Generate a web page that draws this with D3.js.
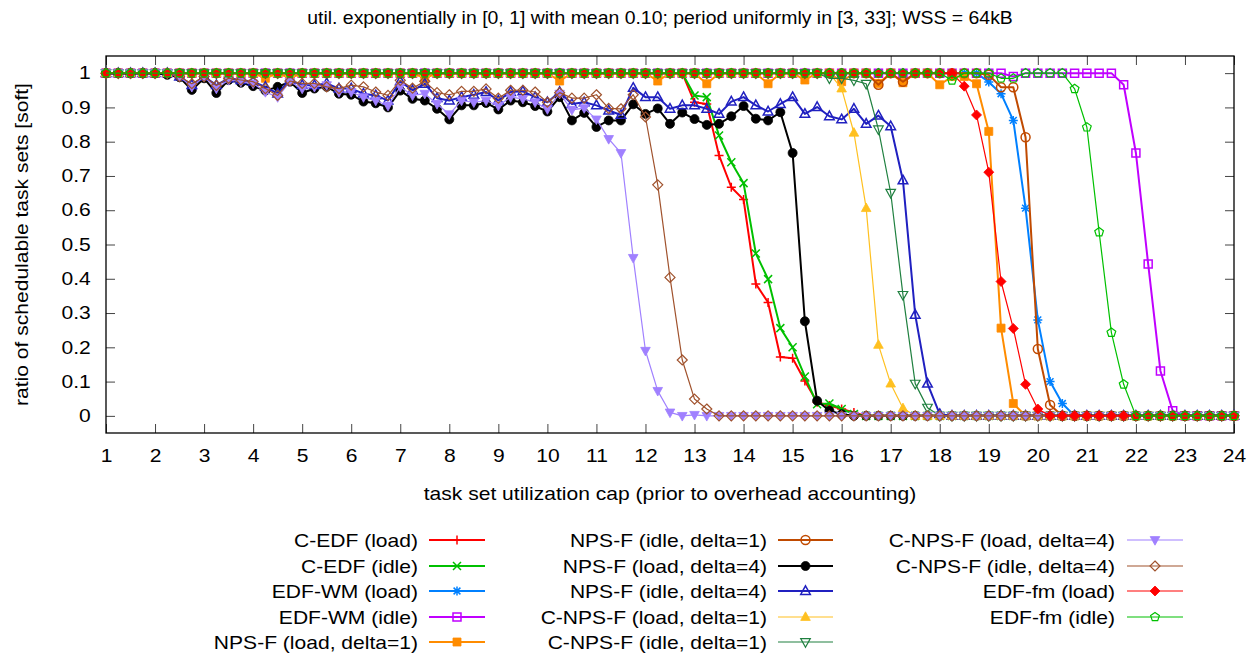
<!DOCTYPE html>
<html><head><meta charset="utf-8">
<script src="https://cdn.jsdelivr.net/npm/d3@7"></script>
<style>
body{margin:0;background:#fff}
svg{display:block}
text{font-family:"Liberation Sans",Arial,sans-serif;fill:#000}
</style>
</head><body>
<svg id="c" width="1258" height="653"></svg>
<script>
// ---------------- data ----------------
const titleText = "util. exponentially in [0, 1] with mean 0.10; period uniformly in [3, 33]; WSS = 64kB";
const xLabel = "task set utilization cap (prior to overhead accounting)";
const yLabel = "ratio of schedulable task sets [soft]";
const xTicks = [1,2,3,4,5,6,7,8,9,10,11,12,13,14,15,16,17,18,19,20,21,22,23,24];
const yTicks = [0,0.1,0.2,0.3,0.4,0.5,0.6,0.7,0.8,0.9,1];
const yTickLabels = ["0","0.1","0.2","0.3","0.4","0.5","0.6","0.7","0.8","0.9","1"];

const xValues = [1,1.25,1.5,1.75,2,2.25,2.5,2.75,3,3.25,3.5,3.75,4,4.25,4.5,4.75,5,5.25,5.5,5.75,6,6.25,6.5,6.75,7,7.25,7.5,7.75,8,8.25,8.5,8.75,9,9.25,9.5,9.75,10,10.25,10.5,10.75,11,11.25,11.5,11.75,12,12.25,12.5,12.75,13,13.25,13.5,13.75,14,14.25,14.5,14.75,15,15.25,15.5,15.75,16,16.25,16.5,16.75,17,17.25,17.5,17.75,18,18.25,18.5,18.75,19,19.25,19.5,19.75,20,20.25,20.5,20.75,21,21.25,21.5,21.75,22,22.25,22.5,22.75,23,23.25,23.5,23.75,24];

const cedfLoad = [
1,1,1,1,1,1,1,1, 1,1,1,1,1,1,1,1, 1,1,1,1,1,1,1,1, 1,1,1,1,1,1,1,1,
1,1,1,1,1,1,1,1, 1,1,1,1,1,1,1,1,
.915,.91,.76,.667,.631,.385,.331,.172,
.168,.102,.04,.03,.02,.01,0,0,
0,0,0,0,0,0,0,0, 0,0,0,0,0,0,0,0, 0,0,0,0,0,0,0,0, 0,0,0,0,0];
const cedfIdle = [
1,1,1,1,1,1,1,1, 1,1,1,1,1,1,1,1, 1,1,1,1,1,1,1,1, 1,1,1,1,1,1,1,1,
1,1,1,1,1,1,1,1, 1,1,1,1,1,1,1,1,
.935,.93,.818,.74,.679,.474,.399,.256,
.2,.115,.034,.036,.02,.005,0,0,
0,0,0,0,0,0,0,0, 0,0,0,0,0,0,0,0, 0,0,0,0,0,0,0,0, 0,0,0,0,0];
const edfwmLoad = [
1,1,1,1,1,1,1,1, 1,1,1,1,1,1,1,1, 1,1,1,1,1,1,1,1, 1,1,1,1,1,1,1,1,
1,1,1,1,1,1,1,1, 1,1,1,1,1,1,1,1, 1,1,1,1,1,1,1,1, 1,1,1,1,1,1,1,1,
1,1,1,1,1,1,1,1,
.974,.94,.862,.606,.28,.1,.036,0,
0,0,0,0,0,0,0,0, 0,0,0,0,0];
const edfwmIdle = [
1,1,1,1,1,1,1,1, 1,1,1,1,1,1,1,1, 1,1,1,1,1,1,1,1, 1,1,1,1,1,1,1,1,
1,1,1,1,1,1,1,1, 1,1,1,1,1,1,1,1, 1,1,1,1,1,1,1,1, 1,1,1,1,1,1,1,1,
1,1,1,1,1,1,1,1, 1,1,.99,1,1,1,1,1,
1,1,1,.966,.767,.443,.131,.015,
0,0,0,0,0];
const npsfLoad1 = [
1,1,1,1,1,1,1,1, 1,1,1,1,1,.985,1,.985, 1,1,1,1,1,1,1,1, 1,1,.985,1,1,1,1,1,
1,1,1,1,1,.977,1,1, 1,1,1,1,1,.977,1,1, 1,.969,1,1,1,1,.969,1,
1,.98,1,1,.975,1,1,.97, 1,.972,1,1,.966,.99,.99,.969,
.83,.256,.036,0,0,0,0,0,
0,0,0,0,0,0,0,0, 0,0,0,0,0];
const npsfIdle1 = [
1,1,1,1,1,1,1,1, 1,1,1,1,1,1,1,1, 1,1,1,1,1,1,1,1, 1,1,1,1,1,1,1,1,
1,1,1,1,1,1,1,1, 1,1,1,1,1,1,1,1, 1,1,1,1,1,1,1,1,
1,1,1,1,1,1,1,.966, 1,.975,1,1,1,1,1,1,
.995,.959,.959,.813,.195,.032,0,0,
0,0,0,0,0,0,0,0, 0,0,0,0,0];
const npsfLoad4 = [
1,1,1,1,1,.995,.988,.951,
.985,.942,.98,.972,.962,.949,.96,.975,
.942,.955,.96,.94,.937,.917,.912,.9,
.949,.925,.92,.896,.865,.906,.906,.913,
.894,.92,.915,.904,.888,.93,.862,.884,
.843,.862,.862,.909,.881,.897,.852,.885,
.866,.849,.852,.874,.904,.867,.862,.886,
.767,.276,.044,.015,.005,0,0,0,
0,0,0,0,0,0,0,0, 0,0,0,0,0,0,0,0, 0,0,0,0,0,0,0,0, 0,0,0,0,0];
const npsfIdle4 = [
1,1,1,1,1,1,.99,.965,
.99,.965,.985,.98,.975,.96,.94,.98,
.965,.965,.97,.955,.955,.94,.935,.92,
.976,.95,.969,.927,.92,.93,.937,.945,
.92,.945,.947,.93,.915,.945,.91,.915,
.906,.891,.878,.957,.93,.93,.896,.906,
.906,.896,.881,.917,.93,.906,.888,.91,
.93,.881,.901,.874,.865,.896,.852,.876,
.845,.687,.295,.094,.005,0,0,0,
0,0,0,0,0,0,0,0, 0,0,0,0,0,0,0,0, 0,0,0,0,0];
const cnpsfLoad1 = [
1,1,1,1,1,1,1,1, 1,1,1,1,1,1,1,1, 1,1,1,1,1,1,1,1, 1,1,1,1,1,1,1,1,
1,1,1,1,1,1,1,1, 1,1,1,1,1,1,1,1, 1,1,1,1,1,1,1,1,
1,1,1,1,.955,.826,.606,.207,
.094,.022,0,0,0,0,0,0,
0,0,0,0,0,0,0,0, 0,0,0,0,0,0,0,0, 0,0,0,0,0];
const cnpsfIdle1 = [
1,1,1,1,1,1,1,1, 1,1,1,1,1,1,1,1, 1,1,1,1,1,1,1,1, 1,1,1,1,1,1,1,1,
1,1,1,1,1,1,1,1, 1,1,1,1,1,1,1,1, 1,1,1,1,1,1,1,1,
1,1,1,.985,.985,.979,.969,.836,
.651,.353,.094,.024,0,0,0,0,
0,0,0,0,0,0,0,0, 0,0,0,0,0,0,0,0, 0,0,0,0,0];
const cnpsfLoad4 = [
1,1,1,1,1,1,.99,.96,
.99,.955,.98,.975,.97,.945,.93,.975,
.955,.96,.965,.945,.945,.93,.92,.905,
.96,.935,.94,.91,.88,.92,.915,.92,
.905,.93,.925,.915,.895,.94,.893,.898,
.865,.808,.767,.461,.19,.073,.01,0,
.003,0,0,0,0,0,0,0,
0,0,0,0,0,0,0,0, 0,0,0,0,0,0,0,0, 0,0,0,0,0,0,0,0, 0,0,0,0,0,0,0,0, 0,0,0,0,0];
const cnpsfIdle4 = [
1,1,1,1,1,1,.99,.969,
.99,.964,.985,.98,.975,.955,.935,.977,
.97,.97,.96,.955,.965,.96,.945,.935,
.979,.956,.976,.943,.937,.947,.947,.954,
.927,.95,.95,.945,.915,.943,.927,.927,
.937,.897,.896,.937,.872,.674,.404,.163,
.049,.02,0,0,0,0,0,0,
0,0,0,0,0,0,0,0, 0,0,0,0,0,0,0,0, 0,0,0,0,0,0,0,0, 0,0,0,0,0,0,0,0, 0,0,0,0,0];
const edffmLoad = [
1,1,1,1,1,1,1,1, 1,1,1,1,1,1,1,1, 1,1,1,1,1,1,1,1, 1,1,1,1,1,1,1,1,
1,1,1,1,1,1,1,1, 1,1,1,1,1,1,1,1, 1,1,1,1,1,1,1,1, 1,1,1,1,1,1,1,1,
1,1,1,1,1,1,.962,.878,
.711,.392,.255,.092,.02,0,0,0,
0,0,0,0,0,0,0,0, 0,0,0,0,0];
const edffmIdle = [
1,1,1,1,1,1,1,1, 1,1,1,1,1,1,1,1, 1,1,1,1,1,1,1,1, 1,1,1,1,1,1,1,1,
1,1,1,1,1,1,1,1, 1,1,1,1,1,1,1,1, 1,1,1,1,1,1,1,1, 1,1,1,1,1,1,1,1,
1,1,1,1,1,.979,1,1,
1,.985,.985,1,1,1,1,.954,
.842,.536,.243,.092,0,0,0,0,
0,0,0,0,0];

const seriesNames = ["C-EDF (load)","C-EDF (idle)","EDF-WM (load)","EDF-WM (idle)","NPS-F (load, delta=1)",
 "NPS-F (idle, delta=1)","NPS-F (load, delta=4)","NPS-F (idle, delta=4)","C-NPS-F (load, delta=1)","C-NPS-F (idle, delta=1)",
 "C-NPS-F (load, delta=4)","C-NPS-F (idle, delta=4)","EDF-fm (load)","EDF-fm (idle)"];
const seriesValues = [cedfLoad,cedfIdle,edfwmLoad,edfwmIdle,npsfLoad1,npsfIdle1,npsfLoad4,npsfIdle4,
 cnpsfLoad1,cnpsfIdle1,cnpsfLoad4,cnpsfIdle4,edffmLoad,edffmIdle];

// ---------------- styles ----------------
const seriesColors = ["#ff0000","#00c000","#0080ff","#c000ff","#ff8c00","#c04a00","#000000","#2020c0",
 "#ffc020","#208040","#a080ff","#a0522d","#ff0000","#00c000"];
const seriesMarkers = ["plus","cross","star","sqO","sqF","cirO","cirF","triUO","triUF","triDO","triDF","diaO","diaF","pentO"];
const seriesWidths = [2,2,2,2,2,2,2,2,1.2,1.2,1.2,1.2,1.2,1.2];

const W=1258,H=653;
const L=106,R=1234,T=56,B=433;
const FS=18, SX=1.17;

const svg = d3.select("#c");
const x = d3.scaleLinear().domain([1,24]).range([L,R]);
const y = d3.scaleLinear().domain([-0.05,1.05]).range([B,T]);

function txt(g, px, py, s, anchor, sx){
  return g.append("text").attr("transform",`translate(${px},${py}) scale(${sx||SX},1)`)
    .attr("text-anchor",anchor).attr("font-size",FS).text(s);
}

// axes
const gB = svg.append("g").attr("transform",`translate(0,${B})`)
  .call(d3.axisBottom(x).tickValues(xTicks).tickSize(-9).tickPadding(16).tickFormat(d3.format("d")));
const gT = svg.append("g").attr("transform",`translate(0,${T})`)
  .call(d3.axisTop(x).tickValues(xTicks).tickSize(-9).tickFormat(""));
const gL = svg.append("g").attr("transform",`translate(${L},0)`)
  .call(d3.axisLeft(y).tickValues(yTicks).tickSize(-9).tickPadding(13).tickFormat((d,i)=>yTickLabels[i]));
const gR = svg.append("g").attr("transform",`translate(${R},0)`)
  .call(d3.axisRight(y).tickValues(yTicks).tickSize(-9).tickFormat(""));
[gB,gT,gL,gR].forEach(g=>{
  g.select(".domain").remove();
  g.selectAll(".tick line").attr("stroke","#444").attr("stroke-width",1);
  g.selectAll(".tick text").attr("font-size",FS).attr("font-family",'"Liberation Sans",Arial,sans-serif')
    .attr("transform",`scale(${SX},1)`);
});
svg.append("rect").attr("x",L).attr("y",T).attr("width",R-L).attr("height",B-T)
  .attr("fill","none").attr("stroke","#000").attr("stroke-width",1.3);

// titles
txt(svg, 660, 24, titleText, "middle", 1.08);
txt(svg, 670, 500, xLabel, "middle");
svg.append("text").attr("transform",`translate(28,${(T+B)/2}) rotate(-90) scale(${SX},1)`)
  .attr("text-anchor","middle").attr("font-size",FS).text(yLabel);

// marker shapes
function markerPath(type){
  switch(type){
    case "plus": return "M-4.5,0H4.5M0,-4.5V4.5";
    case "cross": return "M-4,-4L4,4M-4,4L4,-4";
    case "star": return "M-4.5,0H4.5M0,-4.5V4.5M-3.4,-3.4L3.4,3.4M-3.4,3.4L3.4,-3.4";
    case "sqO": case "sqF": return "M-4,-4H4V4H-4Z";
    case "cirO": case "cirF": return "M4.5,0A4.5,4.5 0 1,1 -4.5,0A4.5,4.5 0 1,1 4.5,0Z";
    case "triUO": case "triUF": return "M0,-5.2L4.8,3.4H-4.8Z";
    case "triDO": case "triDF": return "M0,5.2L4.8,-3.4H-4.8Z";
    case "diaO": case "diaF": return "M0,-5L5,0L0,5L-5,0Z";
    case "pentO": { const r=4.6; let p=""; for(let k=0;k<5;k++){const a=-Math.PI/2+k*2*Math.PI/5; p+=(k?"L":"M")+(r*Math.cos(a)).toFixed(2)+","+(r*Math.sin(a)).toFixed(2);} return p+"Z"; }
  }
}
function isFilled(type){ return /F$/.test(type); }

function drawMarker(g, type, color, lw){
  const filled = isFilled(type);
  return g.append("path").attr("d",markerPath(type))
    .attr("fill", filled?color:"none").attr("stroke",color)
    .attr("stroke-width", filled?0.8:Math.min(lw,1.5));
}

// series
const line = d3.line().x((d,i)=>x(xValues[i])).y(d=>y(d));
const plot = svg.append("g");
seriesValues.forEach((vals,si)=>{
  const c = seriesColors[si], lw = seriesWidths[si], m = seriesMarkers[si];
  const g = plot.append("g");
  g.append("path").datum(vals).attr("d",line).attr("fill","none").attr("stroke",c)
    .attr("stroke-width",lw).attr("stroke-linejoin","round");
  vals.forEach((v,i)=>{
    const mg = g.append("g").attr("transform",`translate(${x(xValues[i])},${y(v)})`);
    drawMarker(mg, m, c, lw);
  });
});

// legend
const legCols = [{tx:418, l0:429, l1:485},{tx:767,l0:778,l1:833},{tx:1115,l0:1127,l1:1183}];
const legRows = [540,566,591,617,642];
const legLayout = [[0,1,2,3,4],[5,6,7,8,9],[10,11,12,13]];
const leg = svg.append("g");
legLayout.forEach((col,ci)=>{
  col.forEach((si,ri)=>{
    const yy = legRows[ri], C = legCols[ci];
    txt(leg, C.tx, yy+6.5, seriesNames[si], "end");
    leg.append("line").attr("x1",C.l0).attr("x2",C.l1).attr("y1",yy).attr("y2",yy)
      .attr("stroke",seriesColors[si]).attr("stroke-width",seriesWidths[si]);
    const mg = leg.append("g").attr("transform",`translate(${(C.l0+C.l1)/2},${yy})`);
    drawMarker(mg, seriesMarkers[si], seriesColors[si], seriesWidths[si]);
  });
});
</script>
</body></html>
